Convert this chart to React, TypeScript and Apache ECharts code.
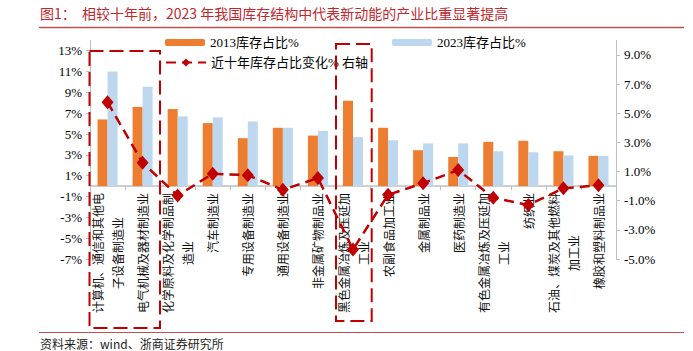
import React, { useEffect, useRef } from "react";
import * as echarts from "echarts";

const categories = [
  "计算机、通信和其他电子设备制造业",
  "电气机械及器材制造业",
  "化学原料及化学制品制造业",
  "汽车制造业",
  "专用设备制造业",
  "通用设备制造业",
  "非金属矿物制品业",
  "黑色金属冶炼及压延加工业",
  "农副食品加工业",
  "金属制品业",
  "医药制造业",
  "有色金属冶炼及压延加工业",
  "纺织业",
  "石油、煤炭及其他燃料加工业",
  "橡胶和塑料制品业",
];
const share2013 = [6.4, 7.6, 7.4, 6.05, 4.6, 5.6, 4.85, 8.2, 5.6, 3.45, 2.8, 4.25, 4.35, 3.35, 2.9];
const share2023 = [11.0, 9.55, 6.7, 6.6, 6.2, 5.6, 5.3, 4.7, 4.4, 4.1, 4.1, 3.35, 3.25, 2.95, 2.9];
const change10y = [5.75, 1.6, -0.65, 0.85, 0.75, -0.25, 0.55, -4.35, -0.6, 0.2, 1.1, -0.8, -1.3, -0.15, 0.05];

const S2013 = "2013库存占比%";
const S2023 = "2023库存占比%";
const SCHG = "近十年库存占比变化% 右轴";

const leftMin = -7;
const leftMax = 14;

const RED = "#c00000";
const CJK = '"Noto Sans CJK SC", sans-serif';
const SERIF = '"Liberation Serif", "Noto Sans CJK SC", serif';

function splitLabel(name: string): string {
  const n = 10;
  if (name.length <= n) return name;
  const l1 = name.slice(0, n);
  const l2 = name.slice(n);
  const pad = (n - l2.length) / 2;
  return l1 + "\n" + l2 + "\u3000".repeat(Math.floor(pad)) + (pad % 1 ? "\u2002" : "");
}

export default function App() {
  const ref = useRef<HTMLDivElement>(null);
  useEffect(() => {
    document.body.style.margin = "0";
    const chart = echarts.init(ref.current!, null, { renderer: "svg" });
    const legendText = { fontFamily: SERIF, fontSize: 13, color: "#000" };
    const gridTop = 40.3;
    const gridBottom = 92;
    const plotH = 351 - gridTop - gridBottom;
    // move x axis up from grid bottom to value 0 of left axis
    const zeroOffset = -plotH * (0 - leftMin) / (leftMax - leftMin);
    chart.setOption({
      animation: false,
      textStyle: { fontFamily: SERIF },
      title: [
        {
          text: "图1：  相较十年前，2023 年我国库存结构中代表新动能的产业比重显著提高",
          left: 40,
          top: 6,
          padding: 0,
          textStyle: { fontFamily: CJK, fontSize: 14, fontWeight: "normal", color: "#c0282d" },
        },
        {
          text: "资料来源：wind、浙商证券研究所",
          left: 40,
          top: 337,
          padding: 0,
          textStyle: { fontFamily: CJK, fontSize: 12, lineHeight: 13, fontWeight: "normal", color: "#222" },
        },
      ],
      legend: [
        { data: [S2013], left: 165, top: 36, padding: 0, itemWidth: 40, itemHeight: 7, textStyle: legendText },
        { data: [S2023], left: 392, top: 36, padding: 0, itemWidth: 40, itemHeight: 7, textStyle: legendText },
        { data: [SCHG], left: 165, top: 56, padding: 0, itemWidth: 40, itemHeight: 10, textStyle: legendText },
      ],
      grid: { left: 90, right: 77, top: gridTop, bottom: gridBottom, containLabel: false, outerBoundsMode: "none" },
      xAxis: {
        type: "category",
        data: categories,
        boundaryGap: true,
        offset: zeroOffset,
        axisLine: { onZero: false, lineStyle: { color: "#bfbfbf", width: 1.5 } },
        axisTick: { show: true, length: 4, lineStyle: { color: "#bfbfbf" } },
        axisLabel: {
          interval: 0,
          rotate: 90,
          margin: 7,
          fontFamily: CJK,
          fontSize: 12,
          lineHeight: 20,
          color: "#111",
          hideOverlap: false,
          formatter: (v: string) => splitLabel(v),
        },
      },
      yAxis: [
        {
          type: "value", min: leftMin, max: leftMax, interval: 2,
          splitLine: { show: false },
          axisLine: { show: true, lineStyle: { color: "#bfbfbf" } },
          axisTick: { show: true, length: 4, lineStyle: { color: "#bfbfbf" } },
          axisLabel: { showMaxLabel: false, margin: 8, fontFamily: SERIF, fontSize: 13, color: "#000", formatter: (v: number) => v + "%" },
        },
        {
          type: "value", min: -5, max: 10, interval: 2, position: "right",
          splitLine: { show: false },
          axisLine: { show: true, lineStyle: { color: "#bfbfbf" } },
          axisTick: { show: true, length: 4, lineStyle: { color: "#bfbfbf" } },
          axisLabel: { showMaxLabel: false, margin: 8, fontFamily: SERIF, fontSize: 13, color: "#000", formatter: (v: number) => v.toFixed(1) + "%" },
        },
      ],
      series: [
        { name: S2013, type: "bar", data: share2013, barWidth: 10, barGap: "0%", itemStyle: { color: "#ed7d31" } },
        { name: S2023, type: "bar", data: share2023, barWidth: 10, barGap: "0%", itemStyle: { color: "#bdd7ee" } },
        {
          name: SCHG, type: "line", yAxisIndex: 1, data: change10y,
          symbol: "diamond", symbolSize: [12, 14],
          itemStyle: { color: RED },
          lineStyle: { color: RED, width: 2.5, type: [10, 6] },
          z: 5,
        },
      ],
      graphic: [
        { type: "line", shape: { x1: 39, y1: 27.5, x2: 684, y2: 27.5 }, style: { stroke: "#c0504d", lineWidth: 1.5 } },
        { type: "line", shape: { x1: 39, y1: 332.5, x2: 684, y2: 332.5 }, style: { stroke: "#c0504d", lineWidth: 1.2 } },
        {
          type: "rect", z: 100,
          shape: { x: 89.5, y: 51, width: 70.5, height: 277 },
          style: { fill: "none", stroke: RED, lineWidth: 2, lineDash: [14, 6] },
        },
        {
          type: "rect", z: 100,
          shape: { x: 336, y: 44, width: 35.7, height: 277 },
          style: { fill: "none", stroke: RED, lineWidth: 2, lineDash: [14, 6] },
        },
      ],
    });
    return () => chart.dispose();
  }, []);
  return <div ref={ref} style={{ width: 693, height: 351 }} />;
}
